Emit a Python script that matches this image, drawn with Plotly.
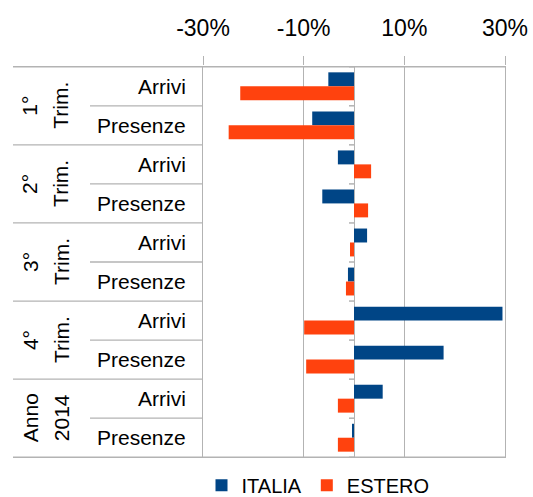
import plotly.graph_objects as go

# ---- data ----
groups = ["1° Trim.", "2° Trim.", "3° Trim.", "4° Trim.", "Anno 2014"]
measures = ["Arrivi", "Presenze"]
series_names = ["ITALIA", "ESTERO"]
italia = [-5.1, -8.3, -3.2, -6.3, 2.6, -1.2, 29.5, 17.8, 5.7, -0.4]
estero = [-22.6, -24.9, 3.4, 2.8, -0.8, -1.6, -9.9, -9.5, -3.2, -3.2]
tick_vals = [-30, -10, 10, 30]
tick_text = ["-30%", "-10%", "10%", "30%"]

# ---- style ----
W, H = 533, 497
L, R, T, B = 203, 28, 66, 39
PW = W - L - R
FONT = "Liberation Sans, Arial, sans-serif"
FS = 21
GRID = "#b3b3b3"
colors = ["#004586", "#ff420e"]

cats = [f"{g} | {m}" for g in groups for m in measures]

fig = go.Figure()
for name, vals, col in zip(series_names, [italia, estero], colors):
    fig.add_trace(go.Bar(y=cats, x=vals, name=name, orientation="h",
                         marker=dict(color=col, line=dict(width=0))))

def px2paper(px):
    return (px - L) / PW

shapes = []
xl_far = px2paper(13)
xl_mid = px2paper(90)
n = len(cats)
for i in range(len(groups) + 1):
    yv = 2 * i - 0.5
    x1 = 1 if i in (0, len(groups)) else 0
    shapes.append(dict(type="line", xref="paper", yref="y", x0=xl_far, x1=x1,
                       y0=yv, y1=yv, line=dict(color=GRID, width=1.3)))
for i in range(len(groups)):
    yv = 2 * i + 0.5
    shapes.append(dict(type="line", xref="paper", yref="y", x0=xl_mid, x1=0,
                       y0=yv, y1=yv, line=dict(color=GRID, width=1.3)))
for k in range(n + 1):
    yv = k - 0.5
    shapes.append(dict(type="line", xref="x", yref="y", x0=-1.0, x1=0,
                       y0=yv, y1=yv, line=dict(color=GRID, width=1.5)))

annotations = []
for c in cats:
    m = c.split(" | ")[1]
    annotations.append(dict(text=m, x=px2paper(188), xref="paper", y=c, yref="y",
                            xanchor="right", yanchor="middle", showarrow=False,
                            font=dict(family=FONT, size=FS, color="#000")))
for i, g in enumerate(groups):
    parts = g.split(" ")
    for part, xp in zip(parts, [30, 61]):
        annotations.append(dict(text=part, x=px2paper(xp), xref="paper", y=2 * i + 0.5, yref="y",
                                xanchor="center", yanchor="middle", textangle=-90, showarrow=False,
                                font=dict(family=FONT, size=FS, color="#000")))

fig.update_layout(
    width=W, height=H,
    margin=dict(l=L, r=R, t=T, b=B, pad=0, autoexpand=False),
    paper_bgcolor="white", plot_bgcolor="white",
    barmode="group", bargap=0.286, bargroupgap=0,
    font=dict(family=FONT, size=FS, color="#000"),
    xaxis=dict(side="top", range=[-30, 30], tickvals=tick_vals, ticktext=tick_text,
               showgrid=True, gridcolor=GRID, gridwidth=1.3,
               zeroline=True, zerolinecolor=GRID, zerolinewidth=1.3,
               ticks="outside", ticklen=9, tickcolor=GRID, tickwidth=1.3,
               ticklabelstandoff=11, showline=False, automargin=False,
               tickfont=dict(family=FONT, size=23, color="#000")),
    yaxis=dict(type="category", categoryorder="array", categoryarray=cats,
               autorange="reversed", showticklabels=False, showgrid=False,
               showline=True, linecolor=GRID, linewidth=1.3, mirror=True, ticks="",
               automargin=False),
    legend=dict(orientation="h", x=px2paper(318), xanchor="center", y=-0.02, yanchor="top",
                traceorder="normal", font=dict(family=FONT, size=20, color="#000"),
                itemwidth=30, tracegroupgap=0),
    shapes=shapes, annotations=annotations, showlegend=True,
)

fig.write_html("out.html", config={"displayModeBar": False},
               post_script="document.body.style.margin='0';document.body.style.padding='0';")
